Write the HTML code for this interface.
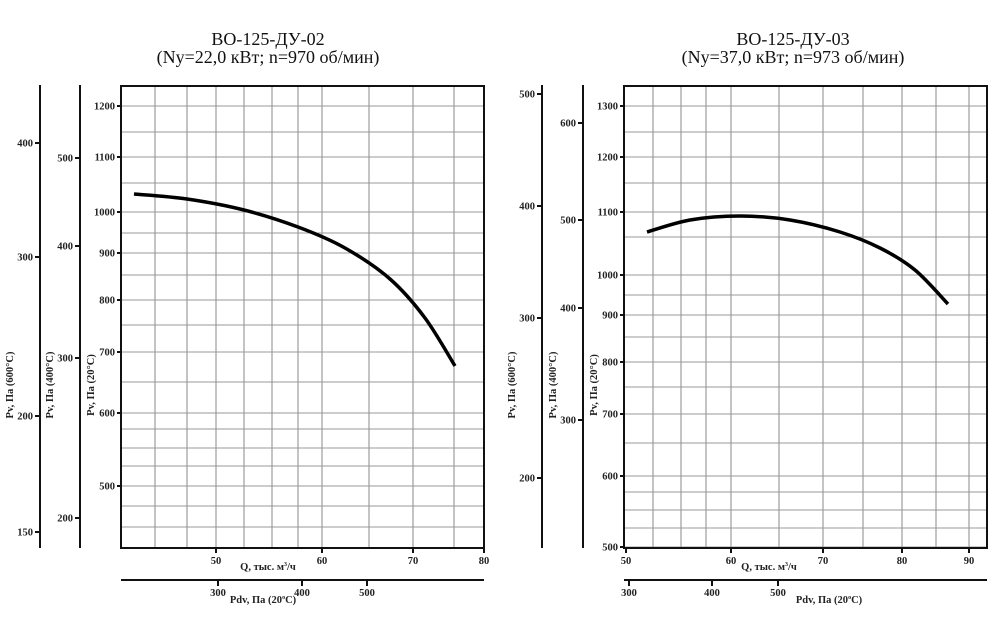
<!DOCTYPE html>
<html><head><meta charset="utf-8"><style>
html,body{margin:0;padding:0;background:#fff;width:1000px;height:625px;overflow:hidden}
svg{display:block;font-family:"Liberation Serif","DejaVu Serif",serif}
.t{font-size:10.5px;font-weight:bold;fill:#222}
.ti{font-size:18px;fill:#111}
</style></head><body>
<svg id="s" width="1000" height="625" viewBox="0 0 1000 625" xmlns="http://www.w3.org/2000/svg">
<text class="ti" x="268" y="45" text-anchor="middle">ВО-125-ДУ-02</text>
<text class="ti" x="268" y="63" text-anchor="middle">(Ny=22,0 кВт; n=970 об/мин)</text>
<text class="ti" x="793" y="45" text-anchor="middle">ВО-125-ДУ-03</text>
<text class="ti" x="793" y="63" text-anchor="middle">(Ny=37,0 кВт; n=973 об/мин)</text>
</svg>
<script>
var s=document.getElementById('s'),h='';
function L(x1,y1,x2,y2,c,w){h+='<line x1="'+x1+'" y1="'+y1+'" x2="'+x2+'" y2="'+y2+'" stroke="'+c+'" stroke-width="'+w+'"/>';}
function T(x,y,t,a,extra){h+='<text class="t" x="'+x+'" y="'+y+'" text-anchor="'+(a||'end')+'" '+(extra||'')+'>'+t+'</text>';}
function cr(p){var d='M'+p[0][0]+','+p[0][1];for(var i=0;i<p.length-1;i++){var a=p[i-1]||p[i],b=p[i],c=p[i+1],e=p[i+2]||c;
 d+=' C'+(b[0]+(c[0]-a[0])/6).toFixed(1)+','+(b[1]+(c[1]-a[1])/6).toFixed(1)+' '+(c[0]-(e[0]-b[0])/6).toFixed(1)+','+(c[1]-(e[1]-b[1])/6).toFixed(1)+' '+c[0]+','+c[1];}return d;}
function chart(c){
 var x0=c.x0,x1=c.x1,y0=86,y1=548;
 c.vg.forEach(function(x){L(x,y0,x,y1,'#888',1);});
 c.hg.forEach(function(y){L(x0,y,x1,y,'#999',1);});
 h+='<rect x="'+x0+'" y="'+y0+'" width="'+(x1-x0)+'" height="'+(y1-y0)+'" fill="none" stroke="#111" stroke-width="2"/>';
 c.yl.forEach(function(p){L(x0-4,p[1],x0,p[1],'#111',2);T(x0-6,p[1]+3.5,p[0]);});
 c.xl.forEach(function(p){L(p[1],y1,p[1],y1+5,'#111',2);T(p[1],y1+16,p[0],'middle');});
 h+='<text class="t" x="'+c.ql+'" y="570" text-anchor="middle">Q, тыс. м<tspan font-size="6" dy="-4">3</tspan><tspan dy="4">/ч</tspan></text>';
 L(x0,580,x1,580,'#111',2);
 c.pl.forEach(function(p){L(p[1],580,p[1],586,'#111',2);T(p[1],596,p[0],'middle');});
 h+='<text class="t" x="'+c.pdl+'" y="603" text-anchor="middle">Pdv, Па (20<tspan font-size="6" dy="-4">o</tspan><tspan dy="4">С)</tspan></text>';
 c.ax.forEach(function(a){
  L(a.x,85,a.x,548,'#111',2);
  a.t.forEach(function(p){L(a.x-5,p[1],a.x,p[1],'#111',2);T(a.x-7,p[1]+3.5,p[0]);});
  h+='<text class="t" transform="translate('+a.lx+',385) rotate(-90)" text-anchor="middle">'+a.lab+'</text>';
 });
 h+='<text class="t" transform="translate('+c.l20+',385) rotate(-90)" text-anchor="middle">Pv, Па (20°С)</text>';
 h+='<path d="'+cr(c.pts)+'" fill="none" stroke="#000" stroke-width="3.5"/>';
}
chart({x0:121,x1:484,
 vg:[155,187,216,244,272,298,322,369,413,454],
 hg:[106,132,157,183,212,233,253,275,300,325,352,382,413,429,448,466,486,506,527],
 yl:[[1200,106],[1100,157],[1000,212],[900,253],[800,300],[700,352],[600,413],[500,486]],
 xl:[[50,216],[60,322],[70,413],[80,484]],
 ql:268,pl:[[300,218],[400,302],[500,367]],pdl:263,
 ax:[{x:40,lx:13,lab:'Pv, Па (600°С)',t:[[400,143],[300,257],[200,416],[150,532]]},
     {x:80,lx:53,lab:'Pv, Па (400°С)',t:[[500,158],[400,246],[300,358],[200,518]]}],
 l20:94,
 pts:[[134,194],[187,199],[244,210],[298,227],[345,248],[390,279],[425,318],[455,366]]
});
chart({x0:624,x1:987,
 vg:[653,681,706,731,779,823,863,902,936,969],
 hg:[106,132,157,183,212,237,275,295,315,337,362,387,414,443,476,492,510,528,547],
 yl:[[1300,106],[1200,157],[1100,212],[1000,275],[900,315],[800,362],[700,414],[600,476],[500,547]],
 xl:[[50,626],[60,731],[70,823],[80,902],[90,969]],
 ql:769,pl:[[300,629],[400,712],[500,778]],pdl:829,
 ax:[{x:542,lx:515,lab:'Pv, Па (600°С)',t:[[500,94],[400,206],[300,318],[200,478]]},
     {x:583,lx:556,lab:'Pv, Па (400°С)',t:[[600,123],[500,220],[400,308],[300,420]]}],
 l20:597,
 pts:[[647,232],[690,220],[740,216],[790,220],[840,232],[880,248],[915,270],[948,304]]
});
s.insertAdjacentHTML('beforeend',h);
</script>
</body></html>
